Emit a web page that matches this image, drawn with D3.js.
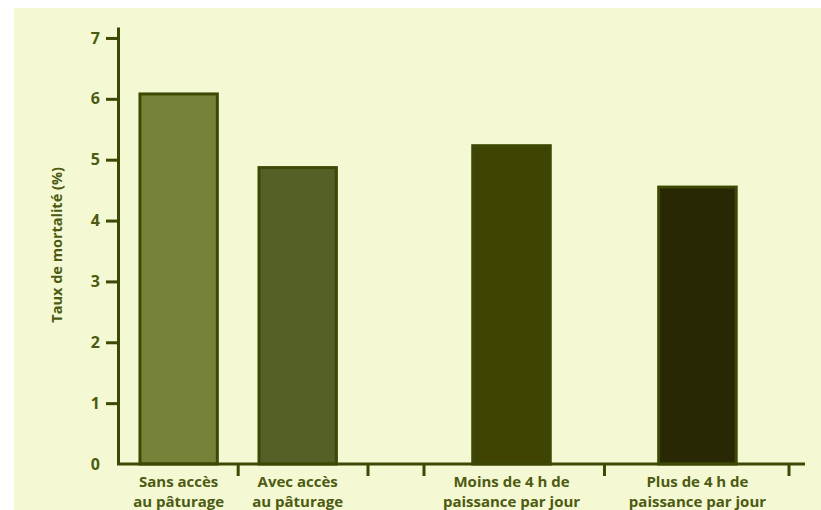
<!DOCTYPE html>
<html>
<head>
    <meta charset="utf-8">
    <script src="https://cdnjs.cloudflare.com/ajax/libs/d3/7.8.5/d3.min.js"></script>
    <style>
        html, body {
            margin: 0;
            padding: 0;
            background-color: #fff;
        }
        text {
            font-family: 'Open Sans', 'Lato', sans-serif;
            font-weight: bold;
            fill: #4d5a12;
        }
    </style>
</head>
<body>
    <svg width="821" height="510"></svg>
    <script>
        // data
        var groupA = ["Sans accès|au pâturage", "Avec accès|au pâturage"];
        var groupB = ["Moins de 4 h de|paissance par jour", "Plus de 4 h de|paissance par jour"];
        var valuesA = [6.08, 4.87];
        var valuesB = [5.23, 4.55];
        var colorsA = ["#768237", "#536127"];
        var colorsB = ["#3f4404", "#292805"];
        var yTicks = [0, 1, 2, 3, 4, 5, 6, 7];
        var yTitle = "Taux de mortalité (%)";

        var ink = "#3d4804";

        var svg = d3.select("svg");

        // background panel
        svg.append("rect")
            .attr("x", 14).attr("y", 8)
            .attr("width", 821 - 14).attr("height", 510 - 8)
            .style("fill", "#f4f9d3");

        //define scales
        var y = d3.scaleLinear().domain([0, 7.18]).range([464, 27]);
        var xA = d3.scaleBand().domain(groupA).range([118, 368])
            .paddingInner(0.35).paddingOuter(0.225).align(0.41);
        var xB = d3.scaleBand().domain(groupB).range([424, 789])
            .paddingInner(0.583).paddingOuter(0.273).align(0.48);

        var groups = [
            {scale: xA, cats: groupA, vals: valuesA, cols: colorsA},
            {scale: xB, cats: groupB, vals: valuesB, cols: colorsB}
        ];

        var plot = svg.append("g");

        // bars
        groups.forEach(function(gr) {
            plot.selectAll(null)
                .data(gr.cats)
                .enter()
                .append("rect")
                .attr("x", function(d) { return gr.scale(d); })
                .attr("y", function(d, i) { return y(gr.vals[i]); })
                .attr("width", gr.scale.bandwidth())
                .attr("height", function(d, i) { return y(0) - y(gr.vals[i]); })
                .style("fill", function(d, i) { return gr.cols[i]; })
                .style("stroke", ink)
                .style("stroke-width", 3);
        });

        //y axis
        var yAxis = plot.append("g")
            .attr("transform", "translate(118,0)")
            .call(d3.axisLeft(y).tickValues(yTicks).tickSize(12).tickSizeOuter(0).tickPadding(6));
        yAxis.select(".domain").style("stroke", ink).style("stroke-width", 3);
        yAxis.selectAll(".tick line").style("stroke", ink).style("stroke-width", 3)
            .style("display", function(d) { return d === 0 ? "none" : null; });
        yAxis.selectAll(".tick text")
            .style("font-family", "'Open Sans', Lato, sans-serif")
            .style("font-weight", "bold")
            .style("font-size", "16px")
            .style("fill", "#4d5a12");

        // x axis line
        plot.append("line")
            .attr("x1", 117).attr("x2", 805)
            .attr("y1", y(0)).attr("y2", y(0))
            .style("stroke", ink).style("stroke-width", 3);

        // x ticks at group boundaries
        var xTicks = [];
        groups.forEach(function(gr, gi) {
            var r = gr.scale.range();
            var mid = (gr.scale(gr.cats[0]) + gr.scale.bandwidth() + gr.scale(gr.cats[1])) / 2;
            if (gi > 0) xTicks.push(r[0]);
            xTicks.push(mid);
            xTicks.push(r[1]);
        });
        plot.selectAll(null)
            .data(xTicks)
            .enter()
            .append("line")
            .attr("x1", function(d) { return d; })
            .attr("x2", function(d) { return d; })
            .attr("y1", y(0))
            .attr("y2", y(0) + 12)
            .style("stroke", ink).style("stroke-width", 3);

        // category labels
        groups.forEach(function(gr) {
            var lbl = plot.selectAll(null)
                .data(gr.cats)
                .enter()
                .append("text")
                .attr("text-anchor", "middle")
                .style("font-size", "15px")
                .attr("transform", function(d) {
                    return "translate(" + (gr.scale(d) + gr.scale.bandwidth() / 2) + ",487)";
                });
            lbl.selectAll("tspan")
                .data(function(d) { return d.split("|"); })
                .enter()
                .append("tspan")
                .attr("x", 0)
                .attr("dy", function(d, i) { return i ? 20 : 0; })
                .text(function(d) { return d; });
        });

        // y title
        svg.append("text")
            .attr("transform", "translate(62," + y(3.6) + ") rotate(-90)")
            .attr("text-anchor", "middle")
            .style("font-size", "14.5px")
            .text(yTitle);
    </script>
</body>
</html>
